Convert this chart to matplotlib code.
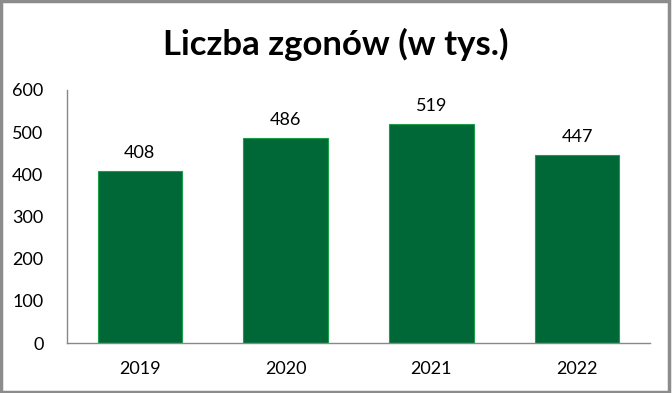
import matplotlib.pyplot as plt
from matplotlib.patches import Rectangle

# Data
years = ["2019", "2020", "2021", "2022"]
deaths = [408, 486, 519, 447]
yticks = [0, 100, 200, 300, 400, 500, 600]

plt.rcParams['font.family'] = ['Lato', 'DejaVu Sans']

fig = plt.figure(figsize=(6.72, 3.93), dpi=100)
ax = fig.add_axes([67 / 672, 1 - 343 / 393, (650 - 67) / 672, (343 - 90) / 393])

x = range(len(years))
bars = ax.bar(x, deaths, width=0.58, color="#006837", edgecolor="#1a9e4a", linewidth=0.8)

# Value labels above the bars
for xi, v in zip(x, deaths):
    ax.annotate(str(v), (xi, v), xytext=(0, 7), textcoords="offset points",
                ha="center", va="bottom", fontsize=13)

ax.set_xlim(-0.5, len(years) - 0.5)
ax.set_ylim(0, 600)
ax.set_yticks(yticks)
ax.set_xticks(list(x))
ax.set_xticklabels(years)
ax.tick_params(axis="both", length=0, labelsize=13)
ax.tick_params(axis="y", pad=17)
ax.tick_params(axis="x", pad=13)

for side in ["top", "right"]:
    ax.spines[side].set_visible(False)
for side in ["left", "bottom"]:
    ax.spines[side].set_color("#888888")
    ax.spines[side].set_linewidth(1)

fig.text(0.5, 1 - 44 / 393, "Liczba zgonów (w tys.)", ha="center", va="center",
         fontsize=25, fontweight="bold")

# Grey frame round the chart
fig.patches.append(Rectangle((0.002, 0.003), 0.994, 0.994, transform=fig.transFigure,
                             fill=False, edgecolor="#8c8c8c", linewidth=2.5))

fig.savefig("out.png", dpi=100)
